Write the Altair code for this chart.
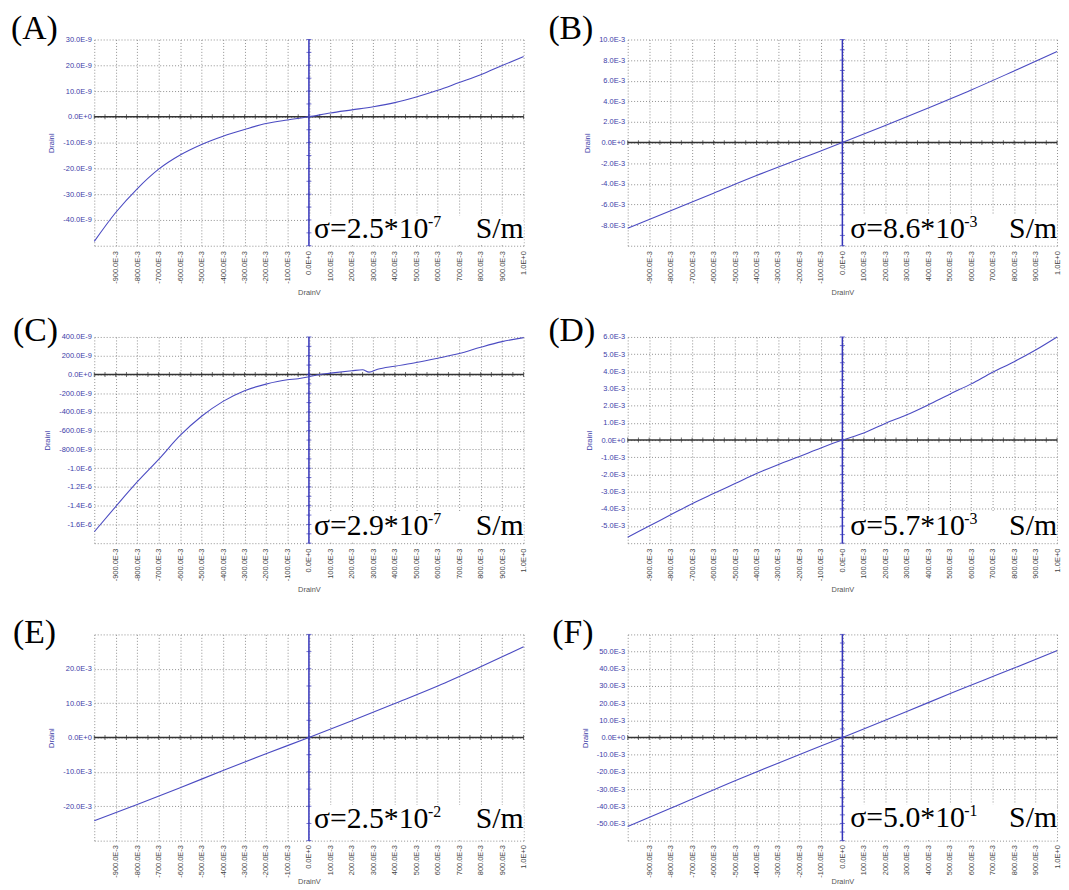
import altair as alt
import pandas as pd

# ---------------- data ----------------
X_GRID = [round(-1 + 0.1 * i, 1) for i in range(21)]
X_MINOR = [round(-1 + 0.05 * i, 2) for i in range(41)]

A_V = [-1.0, -0.9, -0.8, -0.7, -0.6, -0.5, -0.4, -0.3, -0.2, -0.1, 0.0,
       0.1, 0.2, 0.3, 0.4, 0.5, 0.6, 0.7, 0.8, 0.9, 1.0]
A_I = [-48.3, -37.1, -27.9, -20.3, -14.8, -10.7, -7.5, -4.9, -2.6, -1.2, 0.0,
       1.5, 2.7, 3.9, 5.5, 7.7, 10.3, 13.3, 16.3, 19.9, 23.4]          # x1e-9 A

B_V = [-1.0, -0.8, -0.6, -0.4, -0.2, 0.0, 0.2, 0.4, 0.6, 0.8, 1.0]
B_I = [-8.3, -6.6, -4.9, -3.2, -1.6, 0.0, 1.65, 3.35, 5.1, 6.95, 8.83]  # x1e-3 A

C_V = [-1.0, -0.9, -0.8, -0.7, -0.6, -0.5, -0.4, -0.3, -0.2, -0.1, -0.05, 0.0,
       0.05, 0.1, 0.2, 0.25, 0.28, 0.32, 0.4, 0.5, 0.6, 0.7, 0.8, 0.9, 1.0]
C_I = [-1678, -1409, -1147, -906, -651, -446, -287, -173, -103, -57, -46, -25,
       0, 14, 39, 50, 25, 55, 88, 127, 173, 223, 290, 350, 393]       # x1e-9 A

D_V = A_V
D_I = [-5.65, -5.0, -4.35, -3.7, -3.11, -2.53, -1.95, -1.43, -0.95, -0.46, 0.0,
       0.41, 0.97, 1.47, 2.05, 2.67, 3.27, 3.95, 4.56, 5.24, 6.0]     # x1e-3 A

E_V = [-1.0, -0.8, -0.6, -0.4, -0.2, 0.0, 0.2, 0.4, 0.6, 0.8, 1.0]
E_I = [-24.2, -19.5, -14.6, -9.6, -4.7, 0.0, 4.9, 9.9, 15.0, 20.6, 26.4]

F_V = [-1.0, -0.8, -0.5, -0.3, 0.0, 0.3, 0.5, 0.8, 1.0]
F_I = [-51.7, -41.2, -25.1, -14.9, 0.0, 15.1, 25.5, 40.4, 50.6]

# ---------------- styling ----------------
W, H = 433, 208
CURVE = "#4b4bc2"
BLUE_AX = "#3434bb"
YLAB = "#3d3da8"
SERIF = "Liberation Serif, Times New Roman, serif"
SANS = "Liberation Sans, Arial, sans-serif"

X_LABEL_EXPR = ("datum.value < -0.99 ? '' : (abs(datum.value) < 1e-9 ? '0.0E+0' : "
                "(abs(datum.value) > 0.99 ? '1.0E+0' : (datum.value < 0 ? '-' : '') + "
                "format(abs(datum.value) * 1000, '.1f') + 'E-3'))")


def y_label_expr(hidden, kind):
    sign = "(datum.value < 0 ? '-' : '')"
    if kind == "n":
        body = f"{sign} + format(abs(datum.value), '.1f') + 'E-9'"
    elif kind == "nu":
        body = (f"(abs(datum.value) >= 999 ? {sign} + format(abs(datum.value) / 1000, '.1f') + 'E-6' : "
                f"{sign} + format(abs(datum.value), '.1f') + 'E-9')")
    else:
        body = f"{sign} + format(abs(datum.value), '.1f') + 'E-3'"
    cond = " || ".join(f"abs(datum.value - ({h})) < 1e-6" for h in hidden)
    return f"({cond}) ? '' : (abs(datum.value) < 1e-9 ? '0.0E+0' : {body})"


def frange(a, b, step):
    n = int(round((b - a) / step))
    return [round(a + step * i, 6) for i in range(n + 1)]


PANELS = [
    dict(letter="(A)", V=A_V, I=A_I, dom=[-50, 30], grid=frange(-50, 30, 10), hidden=[-50],
         kind="n", minor=frange(-50, 30, 5), main="σ=2.5*10", exp="-7",
         lx=-84, ly=0, sdx=5, sb=7.5, anchor=True),
    dict(letter="(B)", V=B_V, I=B_I, dom=[-10, 10], grid=frange(-10, 10, 2), hidden=[-10],
         kind="m", minor=frange(-10, 10, 1), main="σ=8.6*10", exp="-3",
         lx=-80, ly=0, sdx=8, sb=8),
    dict(letter="(C)", V=C_V, I=C_I, dom=[-1800, 400], grid=frange(-1800, 400, 200), hidden=[-1800],
         kind="nu", minor=frange(-1800, 400, 100), main="σ=2.9*10", exp="-7",
         lx=-82, ly=4, sdx=5, sb=8.7),
    dict(letter="(D)", V=D_V, I=D_I, dom=[-6, 6], grid=frange(-6, 6, 1), hidden=[-6],
         kind="m", minor=frange(-6, 6, 0.5), main="σ=5.7*10", exp="-3",
         lx=-80, ly=4, sdx=8, sb=8.7),
    dict(letter="(E)", V=E_V, I=E_I, dom=[-30, 30], grid=frange(-30, 30, 10), hidden=[-30, 30],
         kind="m", minor=frange(-30, 30, 5), main="σ=2.5*10", exp="-2",
         lx=-82, ly=9, sdx=5, sb=13, bottom=True),
    dict(letter="(F)", V=F_V, I=F_I, dom=[-60, 60], grid=frange(-60, 60, 10), hidden=[-60, 60],
         kind="m", minor=frange(-60, 60, 5), main="σ=5.0*10", exp="-1",
         lx=-76, ly=9, sdx=8, sb=13.7, bottom=True),
]


def panel(p):
    xs = alt.Scale(domain=[-1, 1], nice=False, zero=False)
    ys = alt.Scale(domain=p["dom"], nice=False, zero=False)
    if p.get("bottom"):
        xax = alt.Axis(values=X_GRID, labelExpr=X_LABEL_EXPR, title="DrainV",
                       labelPadding=4, titlePadding=0)
    else:
        xax = alt.Axis(values=X_GRID, labelExpr=X_LABEL_EXPR, title="DrainV")
    yax = alt.Axis(values=p["grid"], labelExpr=y_label_expr(p["hidden"], p["kind"]), title="DrainI")
    X = alt.X("V:Q", scale=xs, axis=xax)
    Y = alt.Y("I:Q", scale=ys, axis=yax)

    df = pd.DataFrame({"V": p["V"], "I": p["I"]})
    curve = alt.Chart(df).mark_line(color=CURVE, strokeWidth=1.1, interpolate="monotone").encode(x=X, y=Y)

    sb = p["sb"]
    box = alt.Chart(pd.DataFrame({"V": [0.004]})).mark_rect(color="white").encode(
        x=X, x2=alt.value(W), y=alt.value(H - sb - 23), y2=alt.value(H - 1.5))

    hline = alt.Chart(pd.DataFrame({"I": [0]})).mark_rule(color="#333333", strokeWidth=1.5).encode(y=Y)
    hticks = alt.Chart(pd.DataFrame({"V": X_MINOR, "I": [0] * len(X_MINOR)})).mark_tick(
        orient="vertical", size=5, thickness=1, color="#333333").encode(x=X, y=Y)

    vline = alt.Chart(pd.DataFrame({"V": [0]})).mark_rule(color=BLUE_AX, strokeWidth=1.5).encode(x=X)
    vticks = alt.Chart(pd.DataFrame({"I": p["minor"], "V": [0] * len(p["minor"])})).mark_tick(
        orient="horizontal", size=5, thickness=1, color=BLUE_AX).encode(x=X, y=Y)

    letter = alt.Chart(pd.DataFrame({"t": [p["letter"]]})).mark_text(
        font=SERIF, fontSize=34, align="left", baseline="alphabetic", color="black").encode(
        text="t:N", x=alt.value(p["lx"]), y=alt.value(p["ly"]))

    sig_main = alt.Chart(pd.DataFrame({"t": [p["main"]], "V": [0]})).mark_text(
        font=SERIF, fontSize=30, align="left", baseline="alphabetic", color="black", dx=p["sdx"]).encode(
        text="t:N", x=X, y=alt.value(H - sb))
    sig_exp = alt.Chart(pd.DataFrame({"t": [p["exp"]], "V": [0]})).mark_text(
        font=SERIF, fontSize=16, align="left", baseline="alphabetic", color="black",
        dx=p["sdx"] + 115).encode(
        text="t:N", x=X, y=alt.value(H - sb - 11))
    sig_unit = alt.Chart(pd.DataFrame({"t": ["S/m"]})).mark_text(
        font=SERIF, fontSize=30, align="right", baseline="alphabetic", color="black").encode(
        text="t:N", x=alt.value(W), y=alt.value(H - sb))

    layers = [box, hline, hticks, vline, vticks, curve, letter, sig_main, sig_exp, sig_unit]
    if p.get("anchor"):
        anchor = alt.Chart(pd.DataFrame({"a": [0]})).mark_rule(color="white", strokeWidth=1).encode(
            x=alt.value(-86), x2=alt.value(-85), y=alt.value(-27), y2=alt.value(-26))
        layers.append(anchor)
    return alt.layer(*layers).properties(width=W, height=H)


charts = [panel(p) for p in PANELS]

chart = alt.concat(*charts, columns=2, spacing={"row": 92, "column": 105}, bounds="flush").properties(
    padding=0
).configure_view(stroke=None).configure_axis(
    domain=False, ticks=False, grid=True, gridColor="#8f8f8f", gridDash=[1, 2], gridWidth=1,
    labelFont=SANS, labelFontSize=7.5, titleFont=SANS, titleFontSize=7.5, titleFontWeight="normal",
).configure_axisX(
    labelAngle=270, labelAlign="right", labelBaseline="middle", labelPadding=5,
    labelColor="#444444", titleColor="#555555", titlePadding=5,
).configure_axisY(
    labelColor=YLAB, titleColor=YLAB, labelPadding=3, titlePadding=7,
)

chart.save("out.html", embed_options={"renderer": "svg", "actions": False})
